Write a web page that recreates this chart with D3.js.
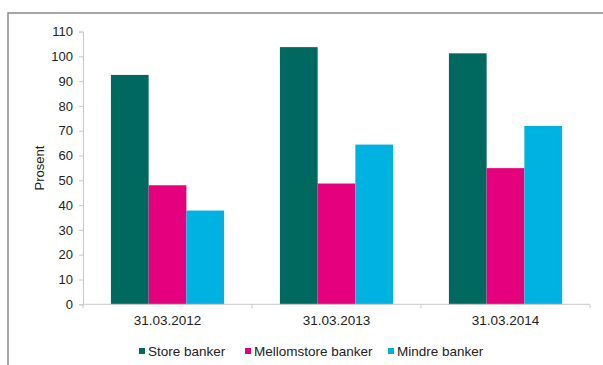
<!DOCTYPE html>
<html><head><meta charset="utf-8">
<script src="https://cdn.jsdelivr.net/npm/d3@7"></script>
<style>body{margin:0;background:#fff}svg{display:block}</style>
</head><body>
<svg id="c" width="603" height="365"></svg>
<script>
const categories = ["31.03.2012", "31.03.2013", "31.03.2014"];
const seriesNames = ["Store banker", "Mellomstore banker", "Mindre banker"];
const storeBanker = [92.5, 103.7, 101.2];
const mellomstoreBanker = [48.0, 48.7, 54.9];
const mindreBanker = [37.8, 64.4, 71.9];
const yTicks = [0,10,20,30,40,50,60,70,80,90,100,110];
const colors = ["#00695f", "#e5007d", "#00b2e2"];
const series = [storeBanker, mellomstoreBanker, mindreBanker];

(function(){
const svg = d3.select("#c");
const font = "Liberation Sans, Arial, sans-serif";
svg.append("rect").attr("x",8).attr("y",13).attr("width",700).attr("height",500)
  .attr("fill","none").attr("stroke","#8a8a8a").attr("stroke-width",1.5);

const pl = 83, pr = 590, pt = 31.5, pb = 304.3;
const x = d3.scaleBand().domain(categories).range([pl, pr]).paddingInner(0).paddingOuter(0);
const xi = d3.scaleBand().domain(seriesNames).range([0, x.bandwidth()]).paddingInner(0).paddingOuter(0.74);
const y = d3.scaleLinear().domain([0,110]).range([pb, pt]);

const g = svg.append("g");
categories.forEach((c,i)=>{
  series.forEach((s,j)=>{
    g.append("rect")
      .attr("x", x(c)+xi(seriesNames[j]))
      .attr("width", xi.bandwidth())
      .attr("y", y(s[i]))
      .attr("height", y(0)-y(s[i]))
      .attr("fill", colors[j]);
  });
});

const yAxis = d3.axisLeft(y).tickValues(yTicks).tickSize(4).tickPadding(6);
const ya = svg.append("g").attr("transform",`translate(${pl},0)`).call(yAxis);
ya.select(".domain").attr("stroke","#c8c8c8");
ya.selectAll(".tick line").attr("stroke","#c8c8c8");
ya.selectAll("text").attr("font-family",font).attr("font-size",13).attr("fill","#222");

const xa = svg.append("g").attr("transform",`translate(0,${pb})`);
xa.append("line").attr("x1",pl).attr("x2",pr).attr("y1",0).attr("y2",0).attr("stroke","#c8c8c8");
[...categories.map(c=>x(c)), pr].forEach(px=>{
  xa.append("line").attr("x1",px).attr("x2",px).attr("y1",0).attr("y2",4).attr("stroke","#c8c8c8");
});
categories.forEach(c=>{
  xa.append("text").attr("x",x(c)+x.bandwidth()/2).attr("y",20.5).attr("text-anchor","middle")
    .attr("font-family",font).attr("font-size",13.5).attr("fill","#222").text(c);
});

svg.append("text").attr("transform","translate(44,168) rotate(-90)").attr("text-anchor","middle")
  .attr("font-family",font).attr("font-size",13).attr("fill","#222").text("Prosent");

const legX = [139, 245, 388];
seriesNames.forEach((n,j)=>{
  svg.append("rect").attr("x",legX[j]).attr("y",348).attr("width",6).attr("height",6).attr("fill",colors[j]);
  svg.append("text").attr("x",legX[j]+9).attr("y",356).attr("font-family",font).attr("font-size",13.5)
    .attr("fill","#222").text(n);
});
})();
</script>
</body></html>
